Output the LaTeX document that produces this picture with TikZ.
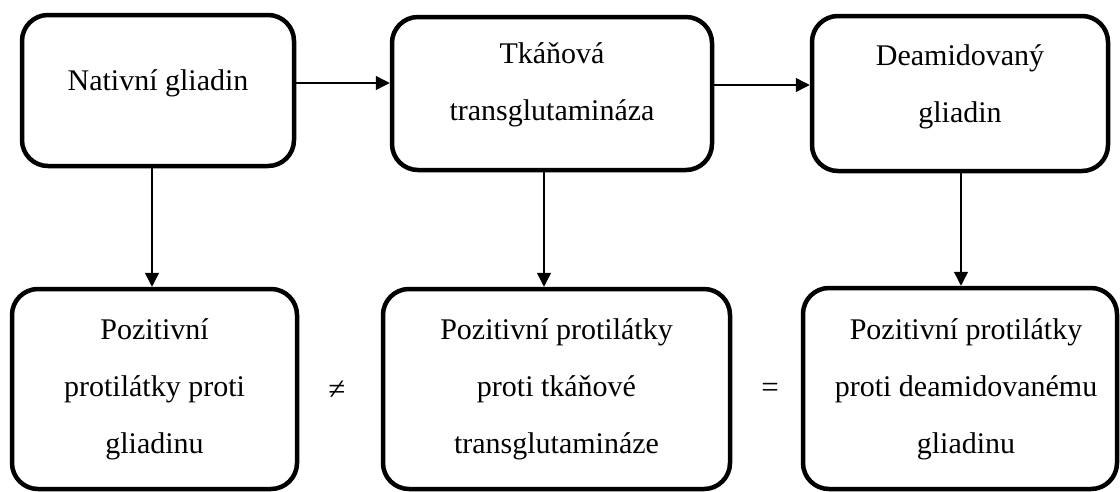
\documentclass[tikz,border=0pt]{standalone}
\usepackage{fontspec}
\setmainfont{Liberation Serif}
\usetikzlibrary{arrows.meta}
\begin{document}
\begin{tikzpicture}[x=1pt,y=-1pt,
  box/.style={draw=black,line width=4.5pt,rounded corners=26pt,fill=white,inner sep=0pt},
  txt/.style={align=center,font=\fontsize{30}{57}\selectfont,inner sep=0pt},
  rel/.style={font=\fontsize{31}{40}\selectfont,inner sep=0pt},
  arr/.style={line width=1.5pt,-{Triangle[length=14pt,width=14pt]}}]
\useasboundingbox (0,0) rectangle (1120,491);
% top row
\node[box,minimum width=272pt,minimum height=151pt] (B1) at (158,90.5) {};
\node[box,minimum width=320pt,minimum height=153pt] (B2) at (552,93.5) {};
\node[box,minimum width=296pt,minimum height=155pt] (B3) at (960,93.5) {};
\node[txt] (t1) at (158,83) {Nativní gliadin};
\node[txt] (t2) at (552,85) {Tkáňová\\transglutamináza};
\node[txt] (t3) at (960,86.5) {Deamidovaný\\gliadin};
% bottom row
\node[box,minimum width=285pt,minimum height=200pt] (B4) at (154.5,389) {};
\node[box,minimum width=347pt,minimum height=200pt] (B5) at (556.5,389) {};
\node[box,minimum width=314pt,minimum height=201pt] (B6) at (960,388.5) {};
\node[txt] (t4) at (154.5,389.5) {Pozitivní\\protilátky proti\\gliadinu};
\node[txt] (t5) at (556.5,389.5) {Pozitivní protilátky\\proti tkáňové\\transglutamináze};
\node[txt] (t6) at (966,389.5) {Pozitivní protilátky\\proti deamidovanému\\gliadinu};
% relation signs
\node[rel] (ne) at (337,390) {≠};
\node[rel] (eq) at (770,390) {=};
% connectors
\draw[arr] (B1.east |- t1.center) -- (B2.west |- t1.center);
\draw[arr] (B2.east |- t2.center) -- (B3.west |- t2.center);
\draw[arr] ([xshift=-6pt]B1.south) -- ([xshift=-6pt]B1.south |- B4.north);
\draw[arr] ([xshift=-8pt]B2.south) -- ([xshift=-8pt]B2.south |- B5.north);
\draw[arr] ([xshift=1pt]B3.south) -- ([xshift=1pt]B3.south |- B6.north);
\end{tikzpicture}
\end{document}
